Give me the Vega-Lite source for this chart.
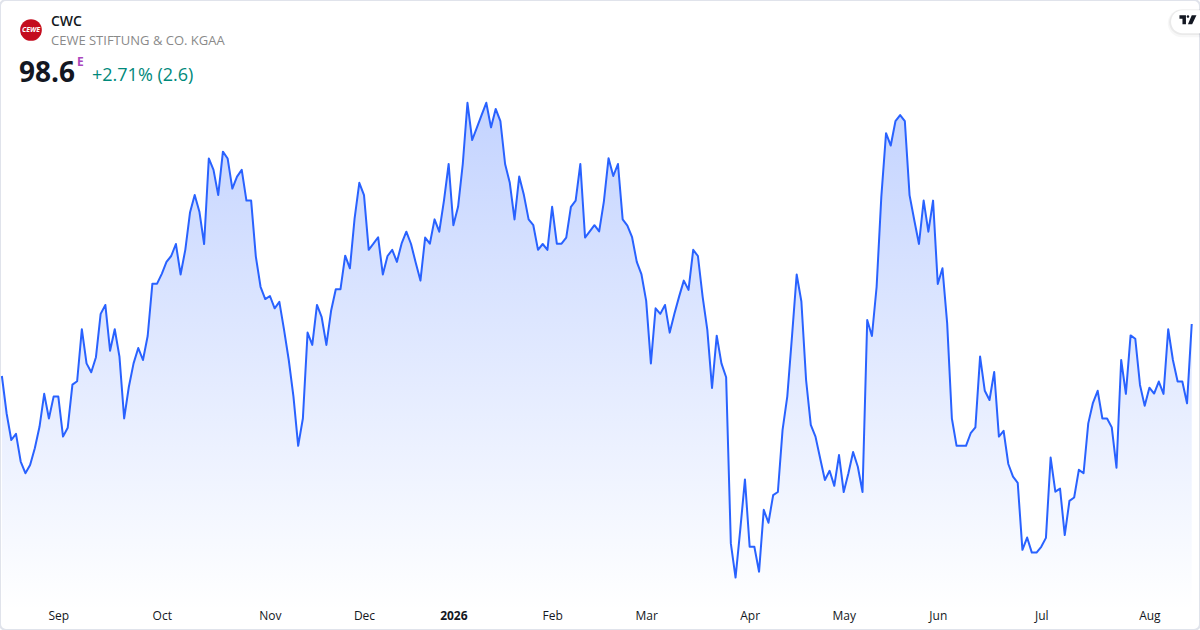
{
  "$schema": "https://vega.github.io/schema/vega-lite/v6.json",
  "description": "CWC, CEWE Stiftung & Co. KGaA, one year of daily closes",
  "width": 1200,
  "height": 630,
  "padding": 0,
  "autosize": "none",
  "background": "white",
  "view": {"stroke": "#e0e3eb", "strokeWidth": 2, "cornerRadius": 6, "fill": "white"},
  "config": {"font": "Open Sans", "text": {"font": "Open Sans"}},
  "datasets": {
    "prices": [
      {"session":0,"close":96.91},{"session":1,"close":95.70},{"session":2,"close":94.83},{"session":3,"close":95.03},{"session":4,"close":94.13},{"session":5,"close":93.75},{"session":6,"close":94.02},{"session":7,"close":94.56},{"session":8,"close":95.26},{"session":9,"close":96.33},
      {"session":10,"close":95.53},{"session":11,"close":96.24},{"session":12,"close":96.24},{"session":13,"close":94.94},{"session":14,"close":95.23},{"session":15,"close":96.63},{"session":16,"close":96.74},{"session":17,"close":98.43},{"session":18,"close":97.32},{"session":19,"close":97.03},
      {"session":20,"close":97.52},{"session":21,"close":98.93},{"session":22,"close":99.22},{"session":23,"close":97.73},{"session":24,"close":98.43},{"session":25,"close":97.54},{"session":26,"close":95.53},{"session":27,"close":96.56},{"session":28,"close":97.32},{"session":29,"close":97.82},
      {"session":30,"close":97.43},{"session":31,"close":98.21},{"session":32,"close":99.91},{"session":33,"close":99.91},{"session":34,"close":100.23},{"session":35,"close":100.62},{"session":36,"close":100.81},{"session":37,"close":101.20},{"session":38,"close":100.21},{"session":39,"close":101.01},
      {"session":40,"close":102.22},{"session":41,"close":102.79},{"session":42,"close":102.25},{"session":43,"close":101.20},{"session":44,"close":103.98},{"session":45,"close":103.61},{"session":46,"close":102.79},{"session":47,"close":104.20},{"session":48,"close":103.98},{"session":49,"close":103.00},
      {"session":50,"close":103.39},{"session":51,"close":103.61},{"session":52,"close":102.61},{"session":53,"close":102.61},{"session":54,"close":100.79},{"session":55,"close":99.81},{"session":56,"close":99.41},{"session":57,"close":99.51},{"session":58,"close":99.11},{"session":59,"close":99.32},
      {"session":60,"close":98.41},{"session":61,"close":97.43},{"session":62,"close":96.24},{"session":63,"close":94.64},{"session":64,"close":95.53},{"session":65,"close":98.32},{"session":66,"close":97.92},{"session":67,"close":99.22},{"session":68,"close":98.82},{"session":69,"close":97.92},
      {"session":70,"close":99.03},{"session":71,"close":99.73},{"session":72,"close":99.73},{"session":73,"close":100.82},{"session":74,"close":100.41},{"session":75,"close":102.03},{"session":76,"close":103.19},{"session":77,"close":102.79},{"session":78,"close":101.01},{"session":79,"close":101.21},
      {"session":80,"close":101.42},{"session":81,"close":100.21},{"session":82,"close":100.81},{"session":83,"close":101.01},{"session":84,"close":100.62},{"session":85,"close":101.22},{"session":86,"close":101.60},{"session":87,"close":101.20},{"session":88,"close":100.59},{"session":89,"close":100.01},
      {"session":90,"close":101.41},{"session":91,"close":101.21},{"session":92,"close":102.00},{"session":93,"close":101.60},{"session":94,"close":102.61},{"session":95,"close":103.80},{"session":96,"close":101.81},{"session":97,"close":102.41},{"session":98,"close":103.80},{"session":99,"close":105.79},
      {"session":100,"close":104.58},{"session":101,"close":104.98},{"session":102,"close":105.39},{"session":103,"close":105.79},{"session":104,"close":104.99},{"session":105,"close":105.59},{"session":106,"close":105.19},{"session":107,"close":103.80},{"session":108,"close":103.19},{"session":109,"close":102.00},
      {"session":110,"close":103.39},{"session":111,"close":102.79},{"session":112,"close":102.00},{"session":113,"close":101.81},{"session":114,"close":101.01},{"session":115,"close":101.20},{"session":116,"close":101.01},{"session":117,"close":102.41},{"session":118,"close":101.21},{"session":119,"close":101.21},
      {"session":120,"close":101.41},{"session":121,"close":102.41},{"session":122,"close":102.61},{"session":123,"close":103.80},{"session":124,"close":101.41},{"session":125,"close":101.61},{"session":126,"close":101.81},{"session":127,"close":101.61},{"session":128,"close":102.58},{"session":129,"close":103.99},
      {"session":130,"close":103.41},{"session":131,"close":103.80},{"session":132,"close":102.00},{"session":133,"close":101.80},{"session":134,"close":101.42},{"session":135,"close":100.62},{"session":136,"close":100.21},{"session":137,"close":99.35},{"session":138,"close":97.32},{"session":139,"close":99.11},
      {"session":140,"close":98.93},{"session":141,"close":99.22},{"session":142,"close":98.32},{"session":143,"close":98.93},{"session":144,"close":99.49},{"session":145,"close":100.01},{"session":146,"close":99.71},{"session":147,"close":101.01},{"session":148,"close":100.81},{"session":149,"close":99.49},
      {"session":150,"close":98.41},{"session":151,"close":96.52},{"session":152,"close":98.22},{"session":153,"close":97.32},{"session":154,"close":96.87},{"session":155,"close":91.47},{"session":156,"close":90.36},{"session":157,"close":91.91},{"session":158,"close":93.55},{"session":159,"close":91.36},
      {"session":160,"close":91.36},{"session":161,"close":90.55},{"session":162,"close":92.56},{"session":163,"close":92.14},{"session":164,"close":93.04},{"session":165,"close":93.14},{"session":166,"close":95.16},{"session":167,"close":96.24},{"session":168,"close":98.19},{"session":169,"close":100.21},
      {"session":170,"close":99.33},{"session":171,"close":96.78},{"session":172,"close":95.32},{"session":173,"close":94.94},{"session":174,"close":94.23},{"session":175,"close":93.53},{"session":176,"close":93.83},{"session":177,"close":93.34},{"session":178,"close":94.34},{"session":179,"close":93.14},
      {"session":180,"close":93.75},{"session":181,"close":94.44},{"session":182,"close":93.96},{"session":183,"close":93.14},{"session":184,"close":98.73},{"session":185,"close":98.21},{"session":186,"close":99.81},{"session":187,"close":102.74},{"session":188,"close":104.80},{"session":189,"close":104.40},
      {"session":190,"close":105.19},{"session":191,"close":105.39},{"session":192,"close":105.19},{"session":193,"close":102.79},{"session":194,"close":101.98},{"session":195,"close":101.20},{"session":196,"close":102.61},{"session":197,"close":101.60},{"session":198,"close":102.61},{"session":199,"close":99.90},
      {"session":200,"close":100.41},{"session":201,"close":98.62},{"session":202,"close":95.53},{"session":203,"close":94.64},{"session":204,"close":94.64},{"session":205,"close":94.64},{"session":206,"close":95.05},{"session":207,"close":95.24},{"session":208,"close":97.54},{"session":209,"close":96.43},
      {"session":210,"close":96.13},{"session":211,"close":97.04},{"session":212,"close":94.94},{"session":213,"close":95.13},{"session":214,"close":94.05},{"session":215,"close":93.64},{"session":216,"close":93.44},{"session":217,"close":91.26},{"session":218,"close":91.66},{"session":219,"close":91.17},
      {"session":220,"close":91.17},{"session":221,"close":91.36},{"session":222,"close":91.65},{"session":223,"close":94.26},{"session":224,"close":93.15},{"session":225,"close":93.25},{"session":226,"close":91.74},{"session":227,"close":92.85},{"session":228,"close":92.96},{"session":229,"close":93.86},
      {"session":230,"close":93.75},{"session":231,"close":95.37},{"session":232,"close":96.04},{"session":233,"close":96.43},{"session":234,"close":95.53},{"session":235,"close":95.53},{"session":236,"close":95.24},{"session":237,"close":93.93},{"session":238,"close":97.43},{"session":239,"close":96.33},
      {"session":240,"close":98.23},{"session":241,"close":98.12},{"session":242,"close":96.62},{"session":243,"close":95.94},{"session":244,"close":96.53},{"session":245,"close":96.34},{"session":246,"close":96.73},{"session":247,"close":96.33},{"session":248,"close":98.43},{"session":249,"close":97.43},
      {"session":250,"close":96.73},{"session":251,"close":96.73},{"session":252,"close":96.02},{"session":253,"close":98.6}
    ]
  },
  "layer": [
    {
      "data": {"name": "prices"},
      "mark": {
        "type": "area",
        "color": {
          "gradient": "linear",
          "x1": 1, "y1": 1, "x2": 1, "y2": 0,
          "stops": [
            {"offset": 0, "color": "rgba(41,98,255,0)"},
            {"offset": 1, "color": "rgba(41,98,255,0.28)"}
          ]
        }
      },
      "encoding": {
        "x": {
          "field": "session",
          "type": "quantitative",
          "scale": {"domain": [-0.4, 254.76], "nice": false, "zero": false},
          "axis": {
            "title": null,
            "grid": false,
            "domain": false,
            "ticks": false,
            "offset": -20,
            "labelPadding": 0,
            "labelFont": "Open Sans",
            "labelFontSize": 12,
            "labelColor": "#131722",
            "labelFlush": false,
            "labelOverlap": false,
            "labelFontWeight": {"condition": {"test": "datum.value == 96", "value": "bold"}, "value": "normal"},
            "values": [12, 34, 57, 77, 96, 117, 137, 159, 179, 199, 221, 244],
            "labelExpr": "{'12':'Sep','34':'Oct','57':'Nov','77':'Dec','96':'2026','117':'Feb','137':'Mar','159':'Apr','179':'May','199':'Jun','221':'Jul','244':'Aug'}[datum.value]"
          }
        },
        "y": {
          "field": "close",
          "type": "quantitative",
          "scale": {"domain": [88.655, 109.13], "nice": false, "zero": false},
          "axis": null
        },
        "y2": {"datum": 89.3}
      }
    },
    {
      "data": {"name": "prices"},
      "mark": {"type": "line", "color": "#2962ff", "strokeWidth": 2, "strokeJoin": "round"},
      "encoding": {
        "x": {"field": "session", "type": "quantitative"},
        "y": {"field": "close", "type": "quantitative"}
      }
    },
    {
      "data": {"values": [{"label": "CEWE"}]},
      "layer": [
        {
          "mark": {"type": "point", "filled": true, "color": "#c40d1f", "opacity": 1, "size": 470, "shape": "circle"},
          "encoding": {
            "x": {"datum": 6.19, "type": "quantitative"},
            "y": {"datum": 108.155, "type": "quantitative"}
          }
        },
        {
          "mark": {"type": "text", "color": "white", "fontSize": 7, "fontWeight": "bold", "fontStyle": "italic", "align": "center", "baseline": "middle"},
          "encoding": {
            "x": {"datum": 6.19, "type": "quantitative"},
            "y": {"datum": 108.155, "type": "quantitative"},
            "text": {"field": "label"}
          }
        }
      ]
    },
    {
      "data": {"values": [{"label": "CWC"}]},
      "mark": {"type": "text", "color": "#131722", "fontSize": 14, "fontWeight": 600, "align": "left", "baseline": "alphabetic"},
      "encoding": {
        "x": {"datum": 10.44, "type": "quantitative"},
        "y": {"datum": 108.285, "type": "quantitative"},
        "text": {"field": "label"}
      }
    },
    {
      "data": {"values": [{"label": "CEWE STIFTUNG & CO. KGAA"}]},
      "mark": {"type": "text", "color": "#8a8a8a", "fontSize": 13, "align": "left", "baseline": "alphabetic"},
      "encoding": {
        "x": {"datum": 10.44, "type": "quantitative"},
        "y": {"datum": 107.67, "type": "quantitative"},
        "text": {"field": "label"}
      }
    },
    {
      "data": {"values": [{"label": "98.6"}]},
      "mark": {"type": "text", "color": "#131722", "fontSize": 28, "fontWeight": "bold", "align": "left", "baseline": "alphabetic"},
      "encoding": {
        "x": {"datum": 3.64, "type": "quantitative"},
        "y": {"datum": 106.465, "type": "quantitative"},
        "text": {"field": "label"}
      }
    },
    {
      "data": {"values": [{"label": "E"}]},
      "mark": {"type": "text", "color": "#ab47bc", "fontSize": 12, "fontWeight": "bold", "align": "left", "baseline": "alphabetic"},
      "encoding": {
        "x": {"datum": 15.97, "type": "quantitative"},
        "y": {"datum": 106.985, "type": "quantitative"},
        "text": {"field": "label"}
      }
    },
    {
      "data": {"values": [{"label": "+2.71% (2.6)"}]},
      "mark": {"type": "text", "color": "#00897b", "fontSize": 18, "align": "left", "baseline": "alphabetic"},
      "encoding": {
        "x": {"datum": 19.16, "type": "quantitative"},
        "y": {"datum": 106.4975, "type": "quantitative"},
        "text": {"field": "label"}
      }
    },
    {
      "data": {"values": [{"label": "chip"}]},
      "layer": [
        {
          "mark": {"type": "rect", "fill": "black", "fillOpacity": 0.03, "cornerRadius": 14},
          "encoding": {
            "x": {"datum": 247.9, "type": "quantitative"},
            "x2": {"datum": 258},
            "y": {"datum": 108.83, "type": "quantitative"},
            "y2": {"datum": 107.92}
          }
        },
        {
          "mark": {"type": "rect", "fill": "black", "fillOpacity": 0.05, "cornerRadius": 13},
          "encoding": {
            "x": {"datum": 248.2, "type": "quantitative"},
            "x2": {"datum": 258},
            "y": {"datum": 108.82, "type": "quantitative"},
            "y2": {"datum": 107.99}
          }
        },
        {
          "mark": {"type": "rect", "fill": "white", "cornerRadius": 11.5},
          "encoding": {
            "x": {"datum": 248.6, "type": "quantitative"},
            "x2": {"datum": 258},
            "y": {"datum": 108.8, "type": "quantitative"},
            "y2": {"datum": 108.05}
          }
        },
        {
          "mark": {
            "type": "point",
            "filled": true,
            "color": "#131722",
            "opacity": 1,
            "size": 289,
            "shape": "M-1 -.53L-.235 -.53L-.235 .53L-.647 .53L-.647 -.118L-1 -.118ZM-.15 -.38a.15 .15 0 1 0 .3 0a.15 .15 0 1 0 -.3 0ZM.447 -.53L1 -.53L.494 .53L0 .53Z"
          },
          "encoding": {
            "x": {"datum": 252.2, "type": "quantitative"},
            "y": {"datum": 108.49, "type": "quantitative"}
          }
        }
      ]
    }
  ]
}
